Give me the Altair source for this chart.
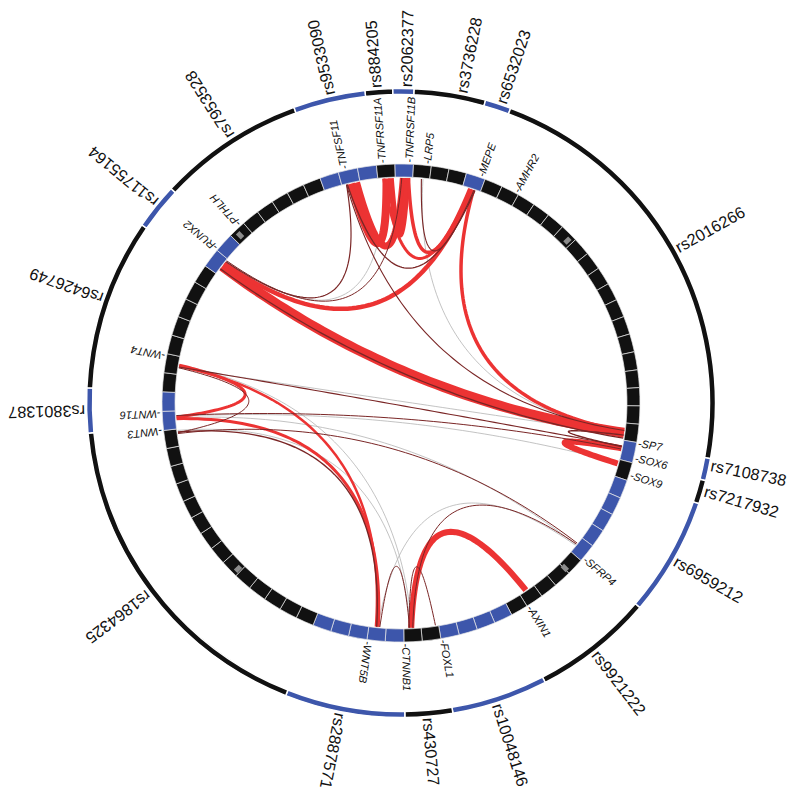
import math
import numpy as np
import pandas as pd
import altair as alt

# ---------------- data ----------------
# outer ring: SNP blocks (degrees, clockwise from 12 o'clock)
snp_names = ["rs884205", "rs2062377", "rs3736228", "rs6532023", "rs2016266", "rs7108738",
             "rs7217932", "rs6959212", "rs9921222", "rs10048146", "rs430727", "rs2887571",
             "rs1864325", "rs3801387", "rs6426749", "rs11755164", "rs7953528", "rs9533090"]
snp_start = [353.4, 358.5, 2.4, 15.6, 20.4, 100.2, 104.3, 108.7, 130.6, 152.7, 170.5, 179.3,
             201.5, 264.5, 272.8, 304.5, 313.0, 340.1]
snp_end = [358.5, 362.4, 15.6, 20.4, 100.2, 104.3, 108.7, 130.6, 152.7, 170.5, 179.3, 201.5,
           264.5, 272.8, 304.5, 313.0, 340.1, 353.4]
snp_color = ["K", "B", "K", "B", "K", "B", "K", "B", "K", "B", "K", "B", "K", "B", "K", "B", "K", "B"]
snp_label_angle = [355.6, 1.1, 11.2, 18.6, 60.8, 101.5, 106.3, 120.0, 142.2, 162.4, 175.2, 191.2,
                   233.0, 268.7, 289.4, 309.3, 327.4, 347.1]

# inner ring: gene blocks
inner_edges = [-1.5, 3.0, 7.3, 11.6, 15.9, 20.6, 25.0, 29.4, 33.8, 38.1, 42.5, 46.9, 51.3, 55.7,
               60.1, 64.4, 68.8, 73.2, 77.6, 82.0, 86.3, 90.7, 95.1, 99.5, 104.5, 108.9, 113.4,
               117.8, 122.3, 126.7, 131.2, 135.4, 139.7, 143.9, 148.2, 152.4, 156.9, 161.4, 165.9,
               170.4, 174.9, 179.3, 183.8, 188.2, 192.7, 197.1, 201.6, 206.0, 210.4, 214.8, 219.3,
               223.7, 228.1, 232.5, 236.9, 241.3, 245.7, 250.2, 254.6, 259.0, 263.4, 268.0, 272.7,
               277.3, 281.9, 286.5, 291.2, 295.8, 300.4, 305.0, 309.7, 314.5, 318.8, 323.1, 327.4,
               331.6, 335.9, 340.2, 344.8, 349.5, 354.1, 358.5]
inner_colors = list("BKKKBKKKKKKKKKKKKKKKKKKBKBBBBBKKKKKBBBBKKBBBBBKKKKKKKKKKKKKKBBKKKKKKKBBKKKKKKBBBK")
gray_mark_angles = [45.7, 135.2, 224.5, 316.2]

gene_names = ["TNFSF11", "TNFRSF11A", "TNFRSF11B", "LRP5", "MEPE", "AMHR2", "SP7", "SOX6", "SOX9",
              "SFRP4", "AXIN1", "FOXL1", "CTNNB1", "WNT5B", "WNT3", "WNT16", "WNT4", "RUNX2", "PTHLH"]
gene_angles = [346.6, 355.7, 2.1, 6.4, 19.6, 28.8, 99.8, 103.4, 107.6, 130.4, 147.9, 170.0, 179.0,
               188.0, 263.5, 267.6, 281.4, 310.0, 317.8]

# links: endpoint angles, kind, width
chord_a = [307.4, 308.3, 347.2, 348.6, 357.4, 1.9, 355.6, 18.8, 101.6, 279.7, 266.0, 279.4, 177.4,
           306.6, 308.9, 309.2, 346.2, 5.2, 346.0, 98.2, 279.2, 262.4, 262.6, 178.0, 185.4, 177.0, 262.2, 266.8,
           309.0, 5.6, 279.0, 266.6, 279.8, 263.0, 185.9, 266.2]
chord_b = [97.6, 18.3, 356.3, 0.6, 1.6, 17.8, 18.0, 97.2, 105.6, 266.4, 185.8, 186.4, 146.3,
           99.0, 346.0, 0.2, 19.2, 18.9, 97.0, 101.2, 101.0, 279.0, 186.2, 171.2, 177.8, 128.8, 128.5, 101.8,
           355.8, 97.4, 98.0, 105.4, 177.2, 177.6, 129.2, 129.0]
chord_kind = ["red"] * 13 + ["dark"] * 15 + ["gray"] * 8
chord_width = [10, 4.5, 8, 7, 6, 3.5, 3, 3.5, 6, 3, 3, 2.5, 6,
               1.3, 1.2, 1.0, 1.3, 1.1, 1.1, 1.4, 1.1, 1.0, 1.4, 1.0, 1.0, 1.0, 1.0, 1.0,
               0.8, 0.8, 0.8, 0.8, 0.8, 0.8, 0.8, 0.8]

# ---------------- styling ----------------
BLUE = "#3d56ab"
BLACK = "#111111"
KIND_COLOR = {"red": "#ec3333", "dark": "#7a2626", "gray": "#b4b4b4"}
COL = {"B": BLUE, "K": BLACK}
CXP, CYP = 393, 395          # ring centre in plot pixels
R_IN0, R_IN1 = 226, 239      # inner ring
R_OUT0, R_OUT1 = 308.5, 314.5  # outer ring
R_CHORD = 225

xs = alt.Scale(domain=[-393, 391], nice=False, zero=False)
ys = alt.Scale(domain=[-389, 395], nice=False, zero=False)


def pol(r, deg):
    a = math.radians(deg)
    return r * math.sin(a), r * math.cos(a)


# outer ring arcs
outer_df = pd.DataFrame({
    "name": snp_names,
    "t0": [math.radians(v) for v in snp_start],
    "t1": [math.radians(v) for v in snp_end],
    "col": [COL[c] for c in snp_color],
})
outer = alt.Chart(outer_df).mark_arc(radius=R_OUT1, radius2=R_OUT0, stroke="white", strokeWidth=1.5).encode(
    theta=alt.Theta("t0:Q", scale=None), theta2="t1:Q",
    color=alt.Color("col:N", scale=None),
    x=alt.value(CXP), y=alt.value(CYP))

# inner ring arcs
inner_df = pd.DataFrame({
    "t0": [math.radians(v) for v in inner_edges[:-1]],
    "t1": [math.radians(v) for v in inner_edges[1:]],
    "col": [COL[c] for c in inner_colors],
})
inner = alt.Chart(inner_df).mark_arc(radius=R_IN1, radius2=R_IN0, stroke="#e6e6e6", strokeWidth=0.7).encode(
    theta=alt.Theta("t0:Q", scale=None), theta2="t1:Q",
    color=alt.Color("col:N", scale=None),
    x=alt.value(CXP), y=alt.value(CYP))

gm_df = pd.DataFrame({
    "t0": [math.radians(v - 0.6) for v in gray_mark_angles],
    "t1": [math.radians(v + 0.6) for v in gray_mark_angles],
})
gmarks = alt.Chart(gm_df).mark_arc(radius=236, radius2=229, color="#8c8c8c").encode(
    theta=alt.Theta("t0:Q", scale=None), theta2="t1:Q",
    x=alt.value(CXP), y=alt.value(CYP))

# chords as quadratic bezier curves
rows = []
for i, (a, b, k, w) in enumerate(zip(chord_a, chord_b, chord_kind, chord_width)):
    d = ((b - a + 540) % 360) - 180
    phi = a + d / 2
    rc = R_CHORD * 0.55 * math.exp(-abs(d) / 40)
    ax, ay = pol(R_CHORD, a)
    bx, by = pol(R_CHORD, b)
    cx, cy = pol(rc, phi)
    for j, t in enumerate(np.linspace(0, 1, 60)):
        x = (1 - t) ** 2 * ax + 2 * t * (1 - t) * cx + t ** 2 * bx
        y = (1 - t) ** 2 * ay + 2 * t * (1 - t) * cy + t ** 2 * by
        rows.append({"cid": i, "k": j, "x": x, "y": y, "kind": k, "w": w, "col": KIND_COLOR[k]})
chord_df = pd.DataFrame(rows)


def chord_layer(kind):
    return alt.Chart(chord_df[chord_df.kind == kind]).mark_line(strokeCap="butt").encode(
        x=alt.X("x:Q", scale=xs, axis=None),
        y=alt.Y("y:Q", scale=ys, axis=None),
        detail="cid:N", order="k:Q",
        color=alt.Color("col:N", scale=None),
        size=alt.Size("w:Q", scale=None))


# labels
snp_pos = [pol(316, a) for a in snp_label_angle]
snp_df = pd.DataFrame({
    "name": snp_names,
    "x": [p[0] for p in snp_pos], "y": [p[1] for p in snp_pos],
    "rot": [(a - 90) % 360 for a in snp_label_angle],
})
snp_text = alt.Chart(snp_df).mark_text(align="left", baseline="middle", fontSize=16.3,
                                       font="Liberation Sans", color="#111111").encode(
    x=alt.X("x:Q", scale=xs, axis=None), y=alt.Y("y:Q", scale=ys, axis=None),
    text="name:N", angle=alt.Angle("rot:Q", scale=None))

gene_pos = [pol(240.5, a) for a in gene_angles]
gene_df = pd.DataFrame({
    "name": ["-" + g for g in gene_names],
    "x": [p[0] for p in gene_pos], "y": [p[1] for p in gene_pos],
    "rot": [(a - 90) % 360 for a in gene_angles],
})
gene_text = alt.Chart(gene_df).mark_text(align="left", baseline="middle", fontSize=11, fontStyle="italic",
                                         font="Liberation Sans", color="#111111").encode(
    x=alt.X("x:Q", scale=xs, axis=None), y=alt.Y("y:Q", scale=ys, axis=None),
    text="name:N", angle=alt.Angle("rot:Q", scale=None))

chart = alt.layer(
    chord_layer("gray"), chord_layer("red"), chord_layer("dark"),
    inner, gmarks, outer, snp_text, gene_text,
).properties(
    width=784, height=784, padding=0,
    autosize=alt.AutoSizeParams(type="none"),
).configure(background="white").configure_view(stroke=None)

chart.save("out.html", embed_options={"renderer": "svg", "actions": False})
